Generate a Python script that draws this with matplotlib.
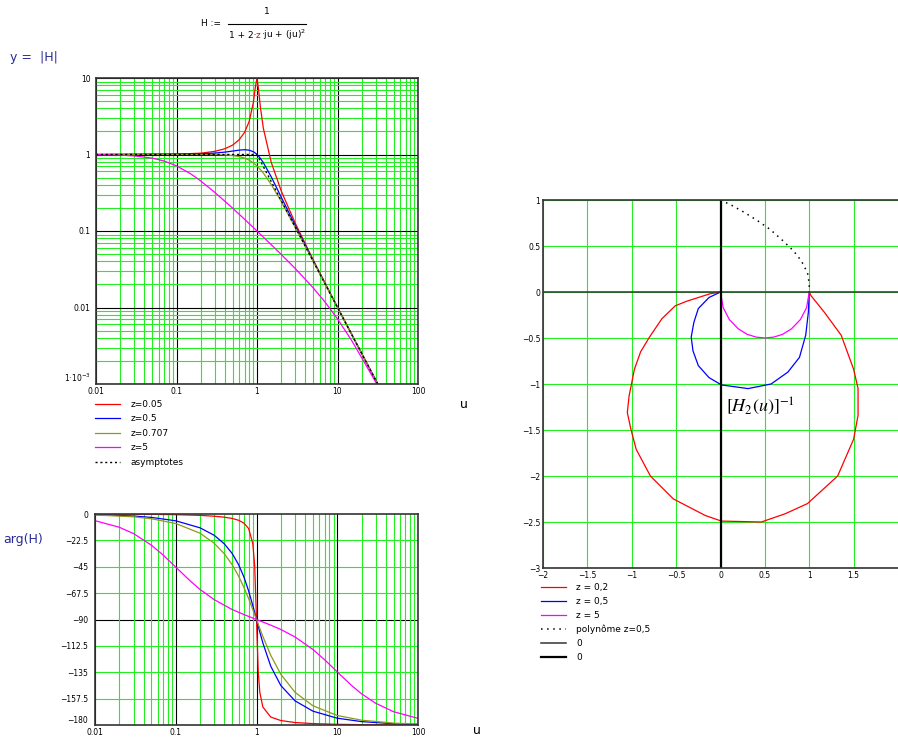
import matplotlib.pyplot as plt
from matplotlib.ticker import LogLocator, NullFormatter

# ---- |H| ----
u_mag = [0.01, 0.1, 0.2, 0.3, 0.4, 0.5, 0.6, 0.7, 0.8, 0.9, 0.95, 1.0, 1.05,
         1.1, 1.2, 1.5, 2, 3, 5, 10, 20, 32]
mag_z005 = [1.0, 1.01, 1.04, 1.10, 1.19, 1.33, 1.56, 1.94, 2.71, 4.76, 7.35, 10.0,
            6.82, 4.22, 2.19, 0.794, 0.333, 0.125, 0.0417, 0.0101, 0.00251, 0.00098]
mag_z05 = [1.0, 1.015, 1.02, 1.044, 1.075, 1.109, 1.14, 1.155, 1.14, 1.087, 1.047, 1.0,
           0.948, 0.893, 0.782, 0.512, 0.277, 0.117, 0.0408, 0.01005, 0.0025, 0.00098]
mag_z0707 = [1.0, 1.0, 0.999, 0.996, 0.987, 0.970, 0.941, 0.898, 0.842, 0.777, 0.742, 0.707,
             0.672, 0.637, 0.570, 0.406, 0.243, 0.110, 0.040, 0.0100, 0.0025, 0.00098]
u_mag5 = [0.01, 0.02, 0.03, 0.05, 0.07, 0.1, 0.15, 0.2, 0.3, 0.5, 0.7, 1.0, 1.5, 2,
          3, 5, 7, 10, 15, 20, 32]
mag_z5 = [0.995, 0.981, 0.959, 0.896, 0.822, 0.711, 0.559, 0.451, 0.319, 0.198, 0.1425,
          0.1, 0.0664, 0.0494, 0.0322, 0.018, 0.0118, 0.0071, 0.0037, 0.0022, 0.00093]
u_asym = [0.01, 1, 31.6]
mag_asym = [1, 1, 0.001]

# ---- arg(H) in degrees ----
u_ph = [0.01, 0.03, 0.05, 0.1, 0.2, 0.3, 0.4, 0.5, 0.6, 0.7, 0.8, 0.9, 0.95, 1.0,
        1.05, 1.1, 1.2, 1.5, 2, 3, 5, 10, 20, 50, 100]
ph_z005 = [-0.06, -0.17, -0.29, -0.58, -1.19, -1.89, -2.73, -3.81, -5.36, -7.8, -12.5,
           -25.3, -44.3, -90, -134.3, -152.4, -164.7, -173.2, -176.2, -177.9, -178.8,
           -179.4, -179.7, -179.9, -179.9]
ph_z05 = [-0.57, -1.7, -2.9, -5.8, -11.8, -18.2, -25.5, -33.7, -43.2, -53.9, -65.8,
          -78.1, -84.1, -90, -95.6, -100.8, -110.1, -129.8, -146.3, -159.4, -168.2,
          -174.2, -177.1, -178.9, -179.4]
ph_z0707 = [-0.81, -2.4, -4.05, -8.1, -16.4, -25.0, -34.0, -43.3, -53.0, -62.7, -72.3,
            -81.5, -85.8, -90, -93.9, -97.7, -104.5, -120.5, -136.7, -152.1, -163.6,
            -171.9, -175.9, -178.4, -179.2]
u_ph5 = [0.01, 0.02, 0.03, 0.05, 0.07, 0.1, 0.15, 0.2, 0.3, 0.5, 0.7, 1.0, 1.5, 2, 3,
         5, 7, 10, 15, 20, 30, 50, 100]
ph_z5 = [-5.7, -11.3, -16.7, -26.6, -35.1, -45.3, -56.9, -64.4, -73.1, -81.5, -85.8,
         -90, -94.8, -98.5, -104.9, -115.6, -124.4, -134.7, -146.2, -153.4, -161.5,
         -168.7, -174.3]

# ---- [H2(u)]^-1 in the complex plane ----
red_x = [0, -0.12, -0.25, -0.38, -0.51, -0.66, -0.80, -0.90, -0.97, -1.03, -1.05, -1.01,
         -0.95, -0.79, -0.53, -0.17, 0.01, 0.46, 0.73, 0.98, 1.32, 1.50, 1.55, 1.55,
         1.50, 1.36, 1.17, 1.02, 1.0]
red_y = [0, -0.02, -0.06, -0.10, -0.15, -0.29, -0.49, -0.65, -0.84, -1.13, -1.31, -1.49,
         -1.71, -2.0, -2.25, -2.43, -2.49, -2.50, -2.41, -2.30, -2.0, -1.60, -1.34,
         -1.05, -0.84, -0.47, -0.22, -0.04, 0]
blue_x = [0, -0.13, -0.25, -0.30, -0.33, -0.31, -0.25, -0.13, 0.01, 0.31, 0.57, 0.76,
          0.89, 0.96, 0.99, 1.0]
blue_y = [0, -0.06, -0.18, -0.33, -0.49, -0.64, -0.80, -0.93, -1.01, -1.05, -1.0, -0.87,
          -0.71, -0.47, -0.22, 0]
mag_x = [0, 0.03, 0.1, 0.2, 0.3, 0.4, 0.5, 0.6, 0.7, 0.8, 0.9, 0.97, 1.0]
mag_y = [0, -0.17, -0.3, -0.4, -0.46, -0.49, -0.5, -0.49, -0.46, -0.4, -0.3, -0.17, 0]
poly_x = [0.0, 0.13, 0.26, 0.41, 0.56, 0.70, 0.82, 0.91, 0.98, 1.0, 1.0]
poly_y = [1.0, 0.94, 0.87, 0.78, 0.68, 0.56, 0.45, 0.34, 0.21, 0.09, 0.0]

RED, BLUE, OLIVE, MAGENTA = '#ff0000', '#0000ff', '#8c9a1a', '#ff00ff'
GREEN = '#22ee22'
NAVY = '#2a2a9a'
W, H = 898, 740

fig = plt.figure(figsize=(W / 100, H / 100), dpi=100)


def box(l, t, r, b):
    return [l / W, 1 - b / H, (r - l) / W, (b - t) / H]


def style(ax):
    for s in ax.spines.values():
        s.set_color('#333333')
        s.set_linewidth(1.2)
    ax.tick_params(which='both', length=0, labelsize=5.5, pad=2)


def log_x(ax):
    ax.set_xscale('log')
    ax.set_xlim(0.01, 100)
    ax.xaxis.set_minor_locator(LogLocator(base=10, subs=range(2, 10)))
    ax.xaxis.set_minor_formatter(NullFormatter())
    ax.set_xticks([0.01, 0.1, 1, 10, 100])
    ax.set_xticklabels(['0.01', '0.1', '1', '10', '100'])


# ---------- magnitude ----------
ax1 = fig.add_axes(box(96, 78, 418, 384))
log_x(ax1)
ax1.set_yscale('log')
ax1.set_ylim(0.001, 10)
ax1.yaxis.set_minor_locator(LogLocator(base=10, subs=range(2, 10)))
ax1.yaxis.set_minor_formatter(NullFormatter())
ax1.set_yticks([0.001, 0.01, 0.1, 1, 10])
ax1.set_yticklabels(['1·10$^{-3}$', '0.01', '0.1', '1', '10'])
ax1.grid(which='minor', color=GREEN, lw=0.8)
ax1.grid(which='major', color='black', lw=0.8)
ax1.plot(u_mag, mag_z005, color=RED, lw=0.9, label='z=0.05')
ax1.plot(u_mag, mag_z05, color=BLUE, lw=0.9, label='z=0.5')
ax1.plot(u_mag, mag_z0707, color=OLIVE, lw=0.9, label='z=0.707')
ax1.plot(u_mag5, mag_z5, color=MAGENTA, lw=0.9, label='z=5')
ax1.plot(u_asym, mag_asym, color='black', lw=1, ls=(0, (1.5, 2)), label='asymptotes')
style(ax1)
ax1.tick_params(axis='y', pad=4)
ax1.get_yticklabels()[0].set_verticalalignment('bottom')
ax1.legend(loc='upper left', bbox_to_anchor=(95 / W, 1 - 400 / H),
           bbox_transform=fig.transFigure, frameon=False, fontsize=6.5,
           handlelength=2.8, handletextpad=1.1, labelspacing=0.6,
           borderaxespad=0, borderpad=0)

# ---------- phase ----------
ax2 = fig.add_axes(box(95, 514, 418, 725))
log_x(ax2)
ax2.set_ylim(-180, 0)
yt = [0, -22.5, -45, -67.5, -90, -112.5, -135, -157.5, -180]
ax2.set_yticks(yt)
ax2.set_yticklabels(['0', '−22.5', '−45', '−67.5', '−90', '−112.5', '−135', '−157.5', '−180'])
ax2.grid(which='minor', axis='x', color=GREEN, lw=0.8)
ax2.grid(which='major', axis='x', color='black', lw=0.8)
for v in yt[1:-1]:
    ax2.axhline(v, color='black' if v == -90 else GREEN, lw=0.8, zorder=0.5)
ax2.plot(u_ph, ph_z005, color=RED, lw=0.9)
ax2.plot(u_ph, ph_z05, color=BLUE, lw=0.9)
ax2.plot(u_ph, ph_z0707, color=OLIVE, lw=0.9)
ax2.plot(u_ph5, ph_z5, color=MAGENTA, lw=0.9)
style(ax2)
ax2.tick_params(axis='y', pad=5)
ax2.get_yticklabels()[-1].set_verticalalignment('bottom')

# ---------- complex plane ----------
ax3 = fig.add_axes(box(543, 200, 898, 568))
ax3.set_xlim(-2, 2)
ax3.set_ylim(-3, 1)
xt = [-2, -1.5, -1, -0.5, 0, 0.5, 1, 1.5]
yt3 = [1, 0.5, 0, -0.5, -1, -1.5, -2, -2.5, -3]
ax3.set_xticks(xt)
ax3.set_xticklabels(['−2', '−1.5', '−1', '−0.5', '0', '0.5', '1', '1.5'])
ax3.set_yticks(yt3)
ax3.set_yticklabels(['1', '0.5', '0', '−0.5', '−1', '−1.5', '−2', '−2.5', '−3'])
ax3.grid(color=GREEN, lw=0.8)
ax3.plot(red_x, red_y, color=RED, lw=0.9, label='z = 0,2')
ax3.plot(blue_x, blue_y, color=BLUE, lw=0.9, label='z = 0,5')
ax3.plot(mag_x, mag_y, color=MAGENTA, lw=0.9, label='z = 5')
ax3.plot(poly_x, poly_y, color='black', lw=1.1, ls=(0, (1, 3)), label='polynôme z=0,5')
ax3.axhline(0, color='#333333', lw=1.1, label='0')
ax3.axvline(0, color='black', lw=1.6, label='0')
style(ax3)
ax3.spines['right'].set_visible(False)
ax3.text(0.06, -1.3, r'$[H_2(u)]^{-1}$', fontsize=13, math_fontfamily='stix')
ax3.legend(loc='upper left', bbox_to_anchor=(541 / W, 1 - 583 / H),
           bbox_transform=fig.transFigure, frameon=False, fontsize=6.5,
           handlelength=2.8, handletextpad=1.1, labelspacing=0.55,
           borderaxespad=0, borderpad=0)

# ---------- labels ----------
fig.text(10 / W, 1 - 57 / H, 'y =  |H|', color=NAVY, fontsize=9, va='center')
fig.text(3 / W, 1 - 540 / H, 'arg(H)', color=NAVY, fontsize=9, va='center')
fig.text(460 / W, 1 - 404 / H, 'u', fontsize=9, va='center')
fig.text(473 / W, 1 - 731 / H, 'u', fontsize=9, va='center')

# formula H := 1 / (1 + 2·z·ju + (ju)^2)
fs = 6.5
fig.text(201 / W, 1 - 24 / H, 'H :=', fontsize=fs, va='center')
fig.text(267 / W, 1 - 12 / H, '1', fontsize=fs, va='center', ha='center')
fig.add_artist(plt.Line2D([228 / W, 306 / W], [1 - 24 / H, 1 - 24 / H],
                          color='black', lw=0.8))
fig.text(229 / W, 1 - 35 / H, '1 + 2·', fontsize=fs, va='center')
fig.text(256 / W, 1 - 35 / H, 'z', fontsize=fs, va='center', color=RED)
fig.text(261 / W, 1 - 35 / H, '·ju + (ju)$^2$', fontsize=fs, va='center')

fig.savefig('out.png', dpi=100)
